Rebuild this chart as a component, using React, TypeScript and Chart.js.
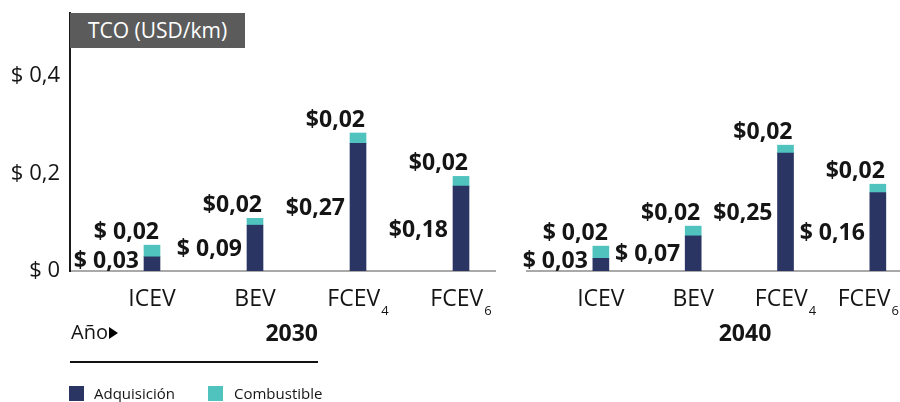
import React, { useEffect, useRef } from 'react';
import { Chart, registerables } from 'chart.js';

Chart.register(...registerables);

const FONT = "'Open Sans', 'Noto Sans', sans-serif";
const NAVY = '#2a3563';
const TEAL = '#50c3bf';
const TEXT = '#151515';

// ---- data ----
const categories = ['ICEV', 'BEV', 'FCEV', 'FCEV'];
const categorySubscripts = ['', '', '4', '6'];
const years = ['2030', '2040'];
const seriesNames = ['Adquisición', 'Combustible'];

const acquisition2030 = [0.029, 0.094, 0.262, 0.174];
const fuel2030 = [0.024, 0.014, 0.021, 0.020];
const acquisitionLabels2030 = ['$ 0,03', '$ 0,09', '$0,27', '$0,18'];
const fuelLabels2030 = ['$ 0,02', '$0,02', '$0,02', '$0,02'];

const acquisition2040 = [0.026, 0.072, 0.242, 0.161];
const fuel2040 = [0.025, 0.020, 0.016, 0.017];
const acquisitionLabels2040 = ['$ 0,03', '$ 0,07', '$0,25', '$ 0,16'];
const fuelLabels2040 = ['$ 0,02', '$0,02', '$0,02', '$0,02'];

const yTicks = [0, 0.2, 0.4];
const yTickLabels = ['$ 0', '$ 0,2', '$ 0,4'];
const yMax = 0.529;
const axisTitle = 'TCO (USD/km)';
const yearCaption = 'Año';

function labelPlugin(acqLabels: string[], fuelLabels: string[]) {
  return {
    id: 'barLabels',
    afterDatasetsDraw(chart: any) {
      const ctx = chart.ctx as CanvasRenderingContext2D;
      ctx.save();
      ctx.font = `bold 23px ${FONT}`;
      ctx.fillStyle = TEXT;
      ctx.textAlign = 'right';
      ctx.textBaseline = 'alphabetic';
      const m0 = chart.getDatasetMeta(0);
      const m1 = chart.getDatasetMeta(1);
      m0.data.forEach((el: any, i: number) => {
        const { x, y, base, width } = el.getProps(['x', 'y', 'base', 'width'], true);
        const mid = Math.min((y + base) / 2, base - 11);
        ctx.fillText(acqLabels[i], x - width / 2 - 5, mid + 8);
      });
      m1.data.forEach((el: any, i: number) => {
        const { x, y, width } = el.getProps(['x', 'y', 'width'], true);
        ctx.fillText(fuelLabels[i], x + width / 2 - 1, y - 6);
      });

      // category labels with subscripts
      const xs = chart.scales.x;
      const bottom = chart.chartArea.bottom;
      ctx.textAlign = 'left';
      ctx.fillStyle = TEXT;
      categories.forEach((c, i) => {
        ctx.font = `23px ${FONT}`;
        const w1 = ctx.measureText(c).width;
        const sub = categorySubscripts[i];
        ctx.font = `13px ${FONT}`;
        const w2 = sub ? ctx.measureText(sub).width + 1 : 0;
        let left = xs.getPixelForValue(i) - (w1 + w2) / 2;
        const right = left + w1 + w2;
        if (right > chart.width - 1) left -= right - (chart.width - 1);
        ctx.font = `23px ${FONT}`;
        ctx.fillText(c, left, bottom + 35);
        if (sub) {
          ctx.font = `13px ${FONT}`;
          ctx.fillText(sub, left + w1 + 1, bottom + 44);
        }
      });
      ctx.restore();
    },
  };
}

function buildChart(
  canvas: HTMLCanvasElement,
  acq: number[],
  fuel: number[],
  acqLabels: string[],
  fuelLabels: string[],
  showY: boolean,
  xMin: number,
  xMax: number,
  padding: any
) {
  const yScale: any = {
    type: 'linear',
    min: 0,
    max: yMax,
    stacked: true,
    display: showY,
    grid: { display: false, drawTicks: false },
    border: { display: true, color: '#1a1a1a', width: 2 },
    afterBuildTicks: (s: any) => {
      s.ticks = yTicks.map((value) => ({ value }));
    },
    afterFit: (s: any) => {
      if (showY) s.width = 70;
      s.paddingTop = 0;
      s.paddingBottom = 0;
    },
    ticks: {
      padding: 10,
      color: TEXT,
      font: { family: FONT, size: 22 },
      callback: (_v: any, index: number) => yTickLabels[index],
    },
  };
  return new Chart(canvas, {
    type: 'bar',
    data: {
      datasets: [
        {
          label: seriesNames[0],
          data: acq.map((v, i) => ({ x: i, y: v })),
          backgroundColor: NAVY,
          barThickness: 16,
        },
        {
          label: seriesNames[1],
          data: fuel.map((v, i) => ({ x: i, y: v })),
          backgroundColor: TEAL,
          barThickness: 16,
        },
      ],
    },
    options: {
      responsive: false,
      animation: false,
      devicePixelRatio: 1,
      layout: { padding },
      plugins: {
        legend: { display: false },
        tooltip: { enabled: false },
      },
      scales: {
        x: {
          type: 'linear',
          min: xMin,
          max: xMax,
          offset: false,
          stacked: true,
          display: true,
          grid: { display: false, drawTicks: false, offset: false },
          ticks: { display: false },
          border: { display: true, color: '#a9a9a9', width: 2 },
          afterFit: (s: any) => {
            s.height = 0;
            s.paddingLeft = 0;
            s.paddingRight = 0;
          },
        },
        y: yScale,
      },
    } as any,
    plugins: [labelPlugin(acqLabels, fuelLabels)],
  });
}

export default function App() {
  const leftRef = useRef<HTMLCanvasElement>(null);
  const rightRef = useRef<HTMLCanvasElement>(null);

  useEffect(() => {
    const c1 = buildChart(
      leftRef.current!,
      acquisition2030,
      fuel2030,
      acquisitionLabels2030,
      fuelLabels2030,
      true,
      -0.796,
      3.33,
      { top: 13, bottom: 131, left: 0, right: 25 }
    );
    const c2 = buildChart(
      rightRef.current!,
      acquisition2040,
      fuel2040,
      acquisitionLabels2040,
      fuelLabels2040,
      false,
      -0.8,
      3.24,
      { top: 13, bottom: 131, left: 7, right: 0 }
    );
    return () => {
      c1.destroy();
      c2.destroy();
    };
  }, []);

  const abs: React.CSSProperties = { position: 'absolute', whiteSpace: 'nowrap' };

  return (
    <div
      style={{
        position: 'absolute',
        left: 0,
        top: 0,
        width: 900,
        height: 402,
        overflow: 'hidden',
        background: '#fff',
        fontFamily: FONT,
        color: TEXT,
      }}
    >
      <canvas ref={leftRef} width={520} height={402} style={{ position: 'absolute', left: 0, top: 0 }} />
      <canvas ref={rightRef} width={380} height={402} style={{ position: 'absolute', left: 520, top: 0 }} />

      <div
        style={{
          ...abs,
          left: 70,
          top: 13,
          width: 175,
          height: 35,
          background: '#5b5b5b',
          color: '#fff',
          fontSize: 21,
          lineHeight: '35px',
          paddingLeft: 18,
          boxSizing: 'border-box',
        }}
      >
        {axisTitle}
      </div>

      <div style={{ ...abs, left: 71, top: 322, fontSize: 20, lineHeight: '20px' }}>{yearCaption}</div>
      <div
        style={{
          ...abs,
          left: 109,
          top: 327,
          width: 0,
          height: 0,
          borderLeft: '9px solid #000',
          borderTop: '6px solid transparent',
          borderBottom: '6px solid transparent',
        }}
      />
      <div
        style={{ ...abs, left: 200, top: 321, width: 118, textAlign: 'right', fontSize: 23, lineHeight: '23px', fontWeight: 700 }}
      >
        {years[0]}
      </div>
      <div style={{ ...abs, left: 70, top: 361, width: 248, height: 2, background: '#111' }} />
      <div
        style={{ ...abs, left: 645, top: 321, width: 200, textAlign: 'center', fontSize: 23, lineHeight: '23px', fontWeight: 700 }}
      >
        {years[1]}
      </div>

      <div style={{ ...abs, left: 69, top: 386, width: 15, height: 15, background: NAVY }} />
      <div style={{ ...abs, left: 94, top: 386, fontSize: 15, lineHeight: '15px' }}>{seriesNames[0]}</div>
      <div style={{ ...abs, left: 208, top: 386, width: 15, height: 15, background: TEAL }} />
      <div style={{ ...abs, left: 234, top: 386, fontSize: 15, lineHeight: '15px' }}>{seriesNames[1]}</div>
    </div>
  );
}
